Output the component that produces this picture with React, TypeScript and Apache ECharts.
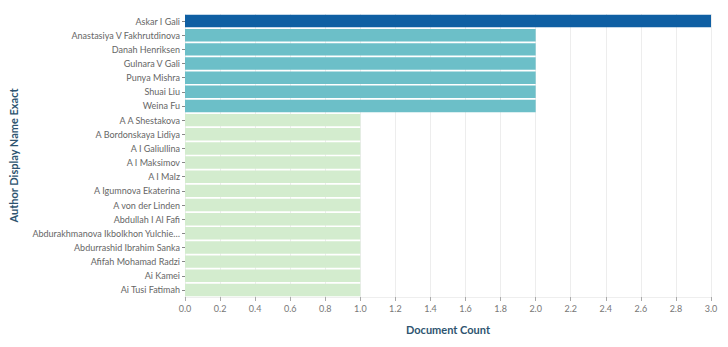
import React, { useEffect, useRef } from "react";
import * as echarts from "echarts";

const authors = [
  "Askar I Gali",
  "Anastasiya V Fakhrutdinova",
  "Danah Henriksen",
  "Gulnara V Gali",
  "Punya Mishra",
  "Shuai Liu",
  "Weina Fu",
  "A A Shestakova",
  "A Bordonskaya Lidiya",
  "A I Galiullina",
  "A I Maksimov",
  "A I Malz",
  "A Igumnova Ekaterina",
  "A von der Linden",
  "Abdullah I Al Fafi",
  "Abdurakhmanova Ikbolkhon Yulchie…",
  "Abdurrashid Ibrahim Sanka",
  "Afifah Mohamad Radzi",
  "Ai Kamei",
  "Ai Tusi Fatimah",
];
const documentCounts = [3, 2, 2, 2, 2, 2, 2, 1, 1, 1, 1, 1, 1, 1, 1, 1, 1, 1, 1, 1];
const colorByCount: Record<number, string> = { 3: "#0f5fa3", 2: "#6cbfc8", 1: "#d3ecce" };

export default function App() {
  const ref = useRef<HTMLDivElement>(null);
  useEffect(() => {
    const chart = echarts.init(ref.current!, null, { renderer: "svg" });
    const font = "Lato, 'Open Sans', sans-serif";
    chart.setOption({
      animation: false,
      grid: { left: 179, right: 17, top: 14, bottom: 50 },
      xAxis: {
        type: "value",
        min: 0,
        max: 3,
        interval: 0.2,
        name: "Document Count",
        nameLocation: "middle",
        nameGap: 27,
        nameTextStyle: { color: "#2e5470", fontSize: 11, fontWeight: "bold", fontFamily: font },
        axisLine: { show: true, lineStyle: { color: "#eeeeee" } },
        axisTick: { show: true, length: 4, lineStyle: { color: "#aaa" } },
        axisLabel: {
          color: "#777",
          fontSize: 9,
          fontFamily: font,
          margin: 7,
          formatter: (v: number) => v.toFixed(1),
        },
        splitLine: { show: true, lineStyle: { color: "#ededed", width: 1 } },
      },
      yAxis: {
        type: "category",
        data: authors,
        inverse: true,
        name: "Author Display Name Exact",
        nameLocation: "middle",
        nameGap: 166,
        nameRotate: 90,
        nameTextStyle: { color: "#2e5470", fontSize: 11, fontWeight: "bold", fontFamily: font },
        axisLine: { show: false },
        axisTick: { show: true, length: 3, alignWithLabel: true, lineStyle: { color: "#888" } },
        axisLabel: { color: "#666", fontSize: 9, fontFamily: font, margin: 5 },
        splitLine: { show: false },
      },
      series: [
        {
          type: "bar",
          barCategoryGap: "12%",
          data: documentCounts.map((v) => ({ value: v, itemStyle: { color: colorByCount[v] } })),
        },
      ],
    });
    return () => chart.dispose();
  }, []);
  return <div ref={ref} style={{ width: 728, height: 347, position: "absolute", left: 0, top: 0 }} />;
}
